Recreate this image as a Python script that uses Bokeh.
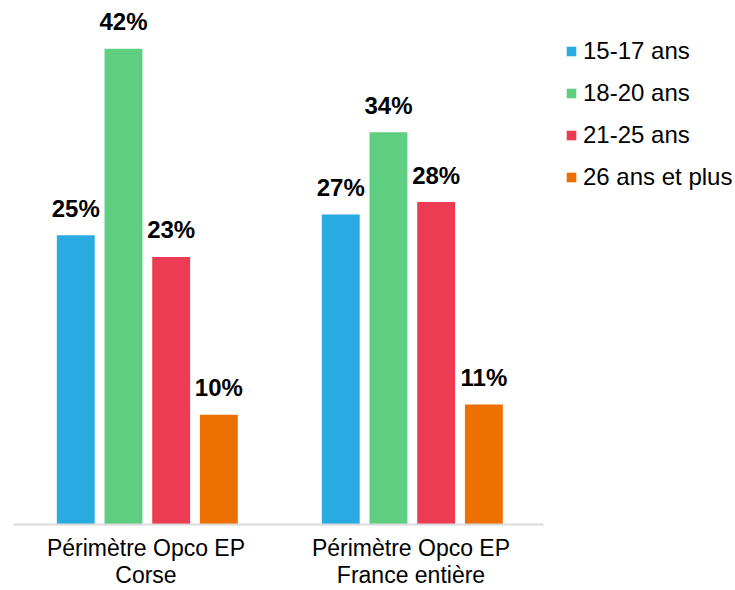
from bokeh.plotting import figure
from bokeh.models import ColumnDataSource, Range1d, Legend, LegendItem, FixedTicker
from bokeh.transform import dodge
from bokeh.core.properties import value
from bokeh.embed import file_html
from bokeh.resources import INLINE

groups = ["Périmètre Opco EP\nCorse", "Périmètre Opco EP\nFrance entière"]
series = ["15-17 ans", "18-20 ans", "21-25 ans", "26 ans et plus"]
colors = ["#29ABE2", "#5ECF80", "#EC3B52", "#EC7000"]
v_1517 = [25.3, 27.1]
v_1820 = [41.6, 34.3]
v_2125 = [23.4, 28.2]
v_26p = [9.6, 10.5]
l_1517 = ["25%", "27%"]
l_1820 = ["42%", "34%"]
l_2125 = ["23%", "28%"]
l_26p = ["10%", "11%"]

values = [v_1517, v_1820, v_2125, v_26p]
labels = [l_1517, l_1820, l_2125, l_26p]
offsets = [-0.265, -0.085, 0.095, 0.275]
gx = list(range(len(groups)))

FONT = "Liberation Sans"

p = figure(x_range=Range1d(-0.5, -0.5 + 722 / 265), y_range=Range1d(0, 44.95),
           width=735, height=590, output_backend="svg", toolbar_location=None,
           min_border_left=13, min_border_top=10, min_border_bottom=40, min_border_right=0)
p.outline_line_color = None
p.xgrid.grid_line_color = None
p.ygrid.grid_line_color = None
p.yaxis.visible = False
p.background_fill_color = "white"

items = []
for i, name in enumerate(series):
    src = ColumnDataSource(dict(x=gx, y=values[i], lab=labels[i]))
    r = p.vbar(x=dodge("x", offsets[i]), top="y", width=0.143,
               source=src, fill_color=colors[i], line_color=None)
    p.text(x=dodge("x", offsets[i]), y="y", text="lab", source=src,
           text_align="center", text_baseline="alphabetic", y_offset=-27,
           text_font=value(FONT), text_font_style="bold", text_font_size="24px",
           text_color="#000000")
    items.append(LegendItem(label=name, renderers=[r]))

ax = p.xaxis[0]
ax.ticker = FixedTicker(ticks=gx)
ax.major_label_overrides = {g: groups[g] for g in gx}
ax.bounds = (-0.5, 1.5)
ax.axis_line_color = "#D9D9D9"
ax.axis_line_width = 2
ax.major_tick_line_color = None
ax.minor_tick_line_color = None
ax.major_tick_out = 0
ax.major_tick_in = 0
ax.major_label_standoff = 10
ax.major_label_text_font = FONT
ax.major_label_text_font_size = "23px"
ax.major_label_text_line_height = 1.05
ax.major_label_text_color = "#000000"

legend = Legend(items=items, orientation="vertical")
legend.border_line_color = None
legend.background_fill_alpha = 0
legend.margin = 0
legend.padding = 0
legend.glyph_width = 12
legend.glyph_height = 12
legend.label_standoff = 6
legend.spacing = 14
legend.label_text_font = FONT
legend.label_text_font_size = "24px"
legend.label_text_color = "#000000"
legend.location = (552, 333)
p.add_layout(legend)

open("out.html", "w").write(file_html(p, INLINE))
